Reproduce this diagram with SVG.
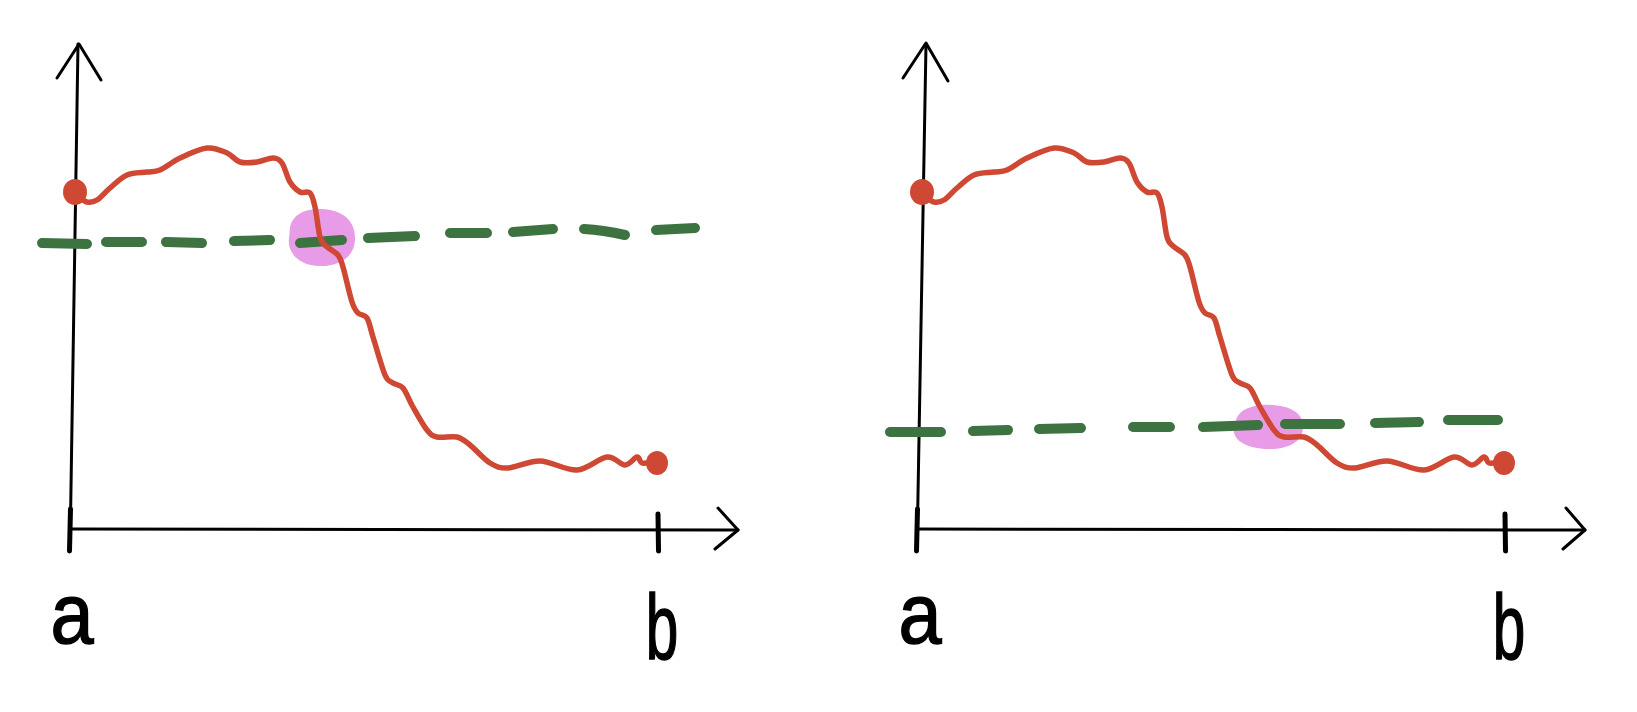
<svg xmlns="http://www.w3.org/2000/svg" xmlns:xlink="http://www.w3.org/1999/xlink" width="1637" height="712" viewBox="0 0 1637 712">
<style>
.axis{fill:none;stroke:#000;stroke-width:3;stroke-linecap:round;stroke-linejoin:round}
.tick{fill:none;stroke:#000;stroke-width:5;stroke-linecap:round}
.curve{fill:none;stroke:#cf4833;stroke-width:5.5;stroke-linecap:round;stroke-linejoin:round}
.dot{fill:#cf4833}
.dash{fill:none;stroke:#3d7241;stroke-width:10;stroke-linecap:round}
.blob{fill:#e89ce8}
.lbl{font-family:"Liberation Sans",Arial,sans-serif;font-size:86px;fill:#000;stroke:#000;stroke-width:1.5;text-anchor:middle}
</style>
<defs>
<g id="red">
<path class="curve" d="M80,197 S84.2,201.5 87,202 S93.2,202.3 97,200 S105,192.2 110,188 S120.8,177.7 127,175 S141.5,172.8 147,172 S154.5,172.3 160,170 S172.2,161.7 180,158 S199.2,148.8 207,148 S221.5,150.7 227,153 S235,160.5 240,162 S251.5,162.7 257,162 S268.8,157.8 273,158 S279.2,159 282,163 S287,177.2 290,182 S296.7,190.2 300,192 S307.5,190.5 310,193 S313.3,199.7 315,207 S318.2,230.5 320,237 S323,243 326,246 S335.2,251.5 338,255 S340.7,259.2 343,267 S349.5,294.3 352,302 S355.5,310.3 358,313 S364.5,314 367,318 S370,327.5 373,337 S381.7,367.3 385,375 S390,380.8 393,383 S399.7,384 403,388 S409,400 413,407 S423,425 427,430 S432,435.8 437,437 S451.5,435.7 457,437 S464.5,440.7 470,445 S483.7,459.2 490,463 S499.7,468.3 508,468 S528.5,460.7 540,461 S565.8,470.7 577,470 S599,457.8 607,457 S620,465 625,465 S634.2,457.3 637,457 S639.5,462.2 642,463 S650.3,462.2 652,462"/>
<ellipse class="dot" cx="75" cy="192" rx="12" ry="13"/>
<ellipse class="dot" cx="657" cy="463" rx="11" ry="12"/>
</g>
</defs>

<g id="left-panel">
  <path class="blob" d="M290,228 C292,214 306,208 322,209 C342,210 356,220 355,240 C354,258 338,267 318,266 C298,265 287,252 289,238 Z"/>
  <g id="left-yaxis">
    <path class="axis" d="M78,44 L70,551"/>
    <path class="axis" d="M57,78 L79,44 L101,80"/>
  </g>
  <g id="left-xaxis">
    <path class="axis" d="M70,529 L738,530"/>
    <path class="axis" d="M718,508 L738,530 L715,549"/>
    <path class="tick" d="M70.5,509 L69.5,551"/>
    <path class="tick" d="M658,514 L658.5,551"/>
  </g>
  <g id="left-level">
    <path class="dash" d="M42,243 L87,244 M106,242 L142,242 M166,242 L202,243 M234,241 L270,240 M300,243 L342,240 M368,238 L415,236 M450,233 L487,233 M513,232 L553,229 M584,229 Q603,230 625,235 M656,230 L695,228"/>
  </g>
  <use xlink:href="#red" href="#red"/>
  <text class="lbl" transform="translate(72,643) scale(0.9,1)">a</text>
  <text class="lbl" transform="translate(662,659) scale(0.68,1.08)">b</text>
</g>

<g id="right-panel">
  <path class="blob" d="M1236,420 C1240,408 1256,404 1272,405 C1292,406 1304,414 1303,428 C1302,442 1288,450 1266,449 C1246,448 1232,440 1234,428 Z"/>
  <g id="right-yaxis">
    <path class="axis" d="M926,44 L917,551"/>
    <path class="axis" d="M903,78 L926,43 L948,81"/>
  </g>
  <g id="right-xaxis">
    <path class="axis" d="M917,529 L1585,530"/>
    <path class="axis" d="M1566,508 L1585,530 L1563,549"/>
    <path class="tick" d="M917.5,509 L916.5,551"/>
    <path class="tick" d="M1505,514 L1505.5,551"/>
  </g>
  <g id="right-level">
    <path class="dash" d="M890,432 L941,432 M973,431 L1008,430 M1039,429 L1081,428 M1133,427 L1170,427 M1203,427 L1258,425 M1285,424 L1340,424 M1375,423 L1419,422 M1448,420 L1498,420"/>
  </g>
  <use xlink:href="#red" href="#red" transform="translate(847,0)"/>
  <text class="lbl" transform="translate(920,643) scale(0.9,1)">a</text>
  <text class="lbl" transform="translate(1509,659) scale(0.68,1.08)">b</text>
</g>
</svg>
